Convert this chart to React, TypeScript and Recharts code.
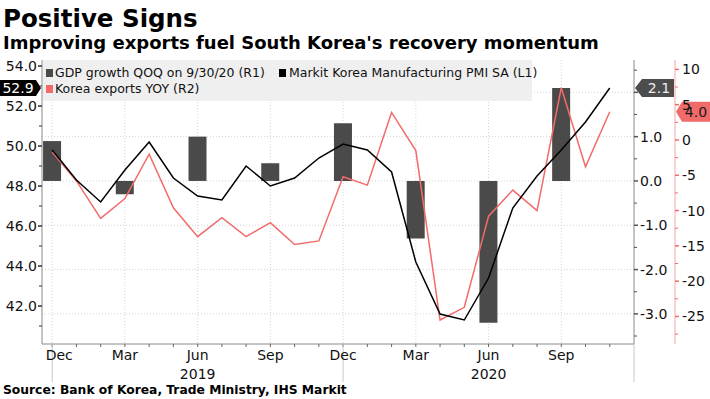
import React from 'react';
import { Bar, CartesianGrid, ComposedChart, Line, ReferenceDot, XAxis, YAxis } from 'recharts';

// monthly, Dec 2018 .. Nov 2020
const months = ['Dec', 'Jan', 'Feb', 'Mar', 'Apr', 'May', 'Jun', 'Jul', 'Aug', 'Sep', 'Oct', 'Nov',
  'Dec', 'Jan', 'Feb', 'Mar', 'Apr', 'May', 'Jun', 'Jul', 'Aug', 'Sep', 'Oct', 'Nov'];
const pmi = [49.8, 48.3, 47.2, 48.8, 50.2, 48.4, 47.5, 47.3, 49.0, 48.0, 48.4, 49.4,
  50.1, 49.8, 48.7, 44.2, 41.6, 41.3, 43.4, 46.9, 48.5, 49.8, 51.2, 52.9];
const exportsYoy = [-1.7, -5.8, -11.1, -8.3, -2.0, -9.6, -13.7, -11.0, -13.7, -11.7, -14.8, -14.3,
  -5.2, -6.4, 3.9, -1.5, -25.5, -23.7, -10.8, -7.1, -10.0, 7.4, -3.8, 4.0];
const gdpQoq = [0.9, null, null, -0.3, null, null, 1.0, null, null, 0.4, null, null,
  1.3, null, null, -1.3, null, null, -3.2, null, null, 2.1, null, null];

const yearLabels = [{ at: 6, text: '2019' }, { at: 18, text: '2020' }];
const yearBreaks = [0, 12, 24];
const quarterGrid = [0, 3, 6, 9, 12, 15, 18, 21];
const gdpGrid = [-3, -2, -1, 0, 1, 2];

const pmiTicks = [41, 42, 43, 44, 45, 46, 47, 48, 49, 50, 51, 52, 53, 54];
const gdpTicks = [-3.5, -3, -2.5, -2, -1.5, -1, -0.5, 0, 0.5, 1, 1.5, 2, 2.5];
const expTicks = [-27.5, -25, -22.5, -20, -17.5, -15, -12.5, -10, -7.5, -5, -2.5, 0, 2.5, 5, 7.5, 10];

const rows = months.map((m, i) => ({ i, pmi: pmi[i], exp: exportsYoy[i], gdp: gdpQoq[i] }));
const xTicks = [...months.map((_, i) => i), 24];

const RED = '#f26b6b';
const BAR = '#4a4a4a';
const FONT = 'DejaVu Sans';

const XTick = (props: any) => {
  const { x, y, payload } = props;
  const i = payload.value;
  const year = yearLabels.find(d => d.at === i);
  return (
    <g>
      {i < 24 && <line x1={x} x2={x} y1={y} y2={y + 3} stroke="#666" />}
      {yearBreaks.includes(i) && <line x1={x} x2={x} y1={y} y2={y + 38} stroke="#c8c8c8" />}
      {i < 24 && i % 3 === 0 && (
        <text x={x + (i === 0 ? 7 : 0)} y={y + 16} textAnchor="middle" fontSize={14} fontFamily={FONT} fill="#111">
          {months[i]}
        </text>
      )}
      {year && (
        <text x={x} y={y + 35} textAnchor="middle" fontSize={14} fontFamily={FONT} fill="#111">{year.text}</text>
      )}
    </g>
  );
};

const LeftTick = (props: any) => {
  const { x, y, payload } = props;
  const v = payload.value;
  const major = v % 2 === 0;
  return (
    <g>
      <line x1={x - (major ? 4 : 3)} x2={x} y1={y} y2={y} stroke="#333" strokeWidth={major ? 1.5 : 1} />
      {major && (
        <text x={x - 5} y={y + 5} textAnchor="end" fontSize={14} fontFamily={FONT} fill="#111">{v.toFixed(1)}</text>
      )}
    </g>
  );
};

// 2.0 sits fully under the 2.1 tag in the reference, so it gets no label
const GdpTick = (props: any) => {
  const { x, y, payload } = props;
  const v = payload.value;
  const major = Number.isInteger(v);
  return (
    <g>
      <line x1={x} x2={x + (major ? 4 : 3)} y1={y} y2={y} stroke="#555" strokeWidth={major ? 1.5 : 1} />
      {major && v !== 2 && (
        <text x={x + 6} y={y + 5} fontSize={14} fontFamily={FONT} fill="#111">{v.toFixed(1)}</text>
      )}
    </g>
  );
};

const ExpTick = (props: any) => {
  const { x, y, payload } = props;
  const v = payload.value;
  const major = v % 5 === 0;
  return (
    <g>
      <line x1={x} x2={x + (major ? 4 : 3)} y1={y} y2={y} stroke={RED} strokeWidth={major ? 1.5 : 1} />
      {major && (
        <text x={x + 7} y={y + 5} fontSize={14} fontFamily={FONT} fill="#111">{v}</text>
      )}
    </g>
  );
};

// value tags on the axes, placed at the scaled y of the last value
const LeftTag = ({ cy }: any) => (
  <g>
    <polygon points={`0,${cy - 8} 36,${cy - 8} 41,${cy} 36,${cy + 8} 0,${cy + 8}`} fill="#000" />
    <text x={18} y={cy + 5} textAnchor="middle" fontSize={14} fontFamily={FONT} fill="#fff">52.9</text>
  </g>
);
const GdpTag = ({ cy }: any) => (
  <g>
    <polygon points={`635,${cy} 642,${cy - 9} 674,${cy - 9} 674,${cy + 9} 642,${cy + 9}`} fill="#4d4d4d" />
    <text x={659} y={cy + 5} textAnchor="middle" fontSize={14} fontFamily={FONT} fill="#eee">2.1</text>
  </g>
);
const ExpTag = ({ cy }: any) => (
  <g>
    <polygon points={`676,${cy} 682,${cy - 10} 710,${cy - 10} 710,${cy + 10} 682,${cy + 10}`} fill={RED} />
    <text x={696} y={cy + 5} textAnchor="middle" fontSize={14} fontFamily={FONT} fill="#1a1a1a">4.0</text>
  </g>
);

export default function App() {
  return (
    <div style={{ position: 'absolute', left: 0, top: 0, width: 710, height: 399, background: '#fff', overflow: 'hidden' }}>
      <ComposedChart width={710} height={399} data={rows} margin={{ top: 60, right: 0, bottom: 15, left: 0 }}>
        <CartesianGrid xAxisId="x" yAxisId="r1" stroke="#d4d4d4" strokeDasharray="1 2"
          verticalValues={quarterGrid} horizontalValues={gdpGrid} />

        <XAxis xAxisId="x" dataKey="i" type="number" domain={[-0.42, 24]} allowDataOverflow ticks={xTicks}
          interval={0} tickSize={0} tickMargin={0} tick={<XTick />} stroke="#8a8a8a" height={40} />
        <YAxis yAxisId="l1" orientation="left" width={42} type="number" domain={[40.1, 54.3]} allowDataOverflow
          ticks={pmiTicks} interval={0} tickSize={0} tickMargin={0} tick={<LeftTick />} stroke="#8a8a8a" />
        <YAxis yAxisId="r1" orientation="right" width={41} type="number" domain={[-3.68, 2.73]} allowDataOverflow
          ticks={gdpTicks} interval={0} tickSize={0} tickMargin={0} tick={<GdpTick />} stroke="#8a8a8a" />
        <YAxis yAxisId="r2" orientation="right" width={35} type="number" domain={[-28.9, 11.33]} allowDataOverflow
          ticks={expTicks} interval={0} tickSize={0} tickMargin={0} tick={<ExpTick />} stroke="#f4a5a5" />

        <Bar xAxisId="x" yAxisId="r1" dataKey="gdp" fill={BAR} barSize={18} isAnimationActive={false} />
        <Line xAxisId="x" yAxisId="r2" dataKey="exp" type="linear" stroke={RED} strokeWidth={1.5} dot={false} isAnimationActive={false} />
        <Line xAxisId="x" yAxisId="l1" dataKey="pmi" type="linear" stroke="#000" strokeWidth={1.5} dot={false} isAnimationActive={false} />
        <ReferenceDot xAxisId="x" yAxisId="l1" x={23} y={pmi[23]} ifOverflow="visible" shape={<LeftTag />} />
        <ReferenceDot xAxisId="x" yAxisId="r1" x={21} y={gdpQoq[21] as number} ifOverflow="visible" shape={<GdpTag />} />
        <ReferenceDot xAxisId="x" yAxisId="r2" x={23} y={exportsYoy[23]} ifOverflow="visible" shape={<ExpTag />} />
      </ComposedChart>

      <svg width={710} height={399} style={{ position: 'absolute', left: 0, top: 0, pointerEvents: 'none' }}>
        <text x={3} y={27} fontSize={24.5} fontWeight="bold" fontFamily={FONT} fill="#000">Positive Signs</text>
        <text x={3} y={49} fontSize={18} fontWeight="bold" fontFamily={FONT} fill="#000">
          Improving exports fuel South Korea's recovery momentum
        </text>
        <text x={3} y={394} fontSize={12.3} fontWeight="bold" fontFamily={FONT} fill="#000">
          Source: Bank of Korea, Trade Ministry, IHS Markit
        </text>

        <rect x={43} y={60} width={489} height={41} fill="#efefef" />
        <rect x={46} y={69} width={7} height={8} fill={BAR} />
        <text x={55} y={77} fontSize={12.5} fontFamily={FONT} fill="#111">GDP growth QOQ on 9/30/20 (R1)</text>
        <rect x={279} y={69} width={7} height={8} fill="#000" />
        <text x={289} y={77} fontSize={12.5} fontFamily={FONT} fill="#111">Markit Korea Manufacturing PMI SA (L1)</text>
        <rect x={46} y={85} width={7} height={8} fill={RED} />
        <text x={55} y={93} fontSize={12.5} fontFamily={FONT} fill="#111">Korea exports YOY (R2)</text>
      </svg>
    </div>
  );
}
